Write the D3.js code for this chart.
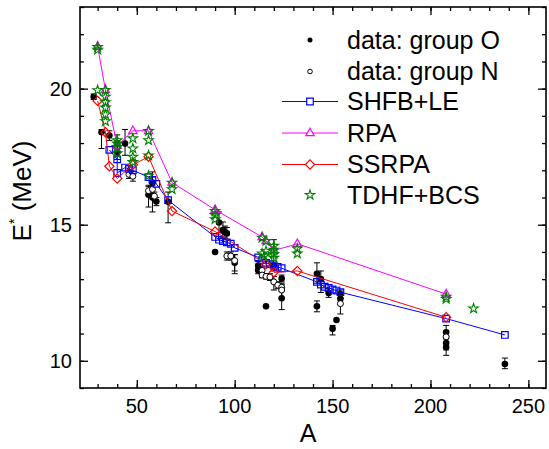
<!DOCTYPE html>
<html>
<head>
<meta charset="utf-8">
<script src="https://cdn.jsdelivr.net/npm/d3@7"></script>
<style>
  body { margin: 0; background: #fff; }
  text { font-family: "Liberation Sans", Arial, sans-serif; fill: #000; }
</style>
</head>
<body>
<script>
// ---- data ----
// experimental points: [A, E*, errLow, errHigh] (null = no bar)
const groupO = [
  [28, 19.7, 19.6, 19.8], [32, 18.4, 17.8, 18.5], [36, 18.28, 18.1, 18.45],
  [40, 17.65, 17.4, 17.95], [40, 18.0, 17.8, 18.3], [44, 17.98, 17.55, 18.5],
  [56, 16.1, 15.65, 16.45], [58, 16.0, 15.47, 16.94], [60, 15.85, 15.7, 16.0],
  [58, 16.55, 16.35, 16.75], [66, 15.84, 15.07, 16.2],
  [90, 14.0, null, null], [92, 15.08, 14.7, 15.47], [94, 14.8, 14.5, 15.1],
  [95, 14.72, 14.5, 14.95], [96, 14.68, 14.45, 14.9], [100, 13.6, 13.3, 13.9],
  [112, 13.5, 13.35, 13.65], [112, 13.33, 13.2, 13.45], [116, 12.0, null, null],
  [120, 13.5, 13.3, 14.45], [124, 13.02, 12.9, 13.15], [124, 12.3, 11.88, 12.7],
  [142, 13.2, 12.85, 13.6], [144, 13.0, 12.51, 13.3], [142, 12.0, 11.8, 12.2],
  [148, 12.49, 12.33, 12.66], [154, 12.45, 12.3, 12.6], [154, 12.28, null, null],
  [152, 11.5, null, null], [150, 11.18, 10.95, 11.3],
  [208, 11.05, 10.85, 11.3], [208, 10.65, 10.4, 10.9], [208, 10.5, 10.2, 10.8],
  [238, 9.88, 9.71, 10.1]
];
const groupN = [
  [46, 16.85, 16.7, 17.0], [48, 16.78, 16.6, 16.95], [56, 16.25, 16.1, 16.4],
  [58, 16.3, 16.15, 16.45], [59, 16.05, 15.9, 16.2],
  [96, 13.85, 13.7, 14.0], [98, 13.85, 13.7, 14.0], [100, 13.68, 13.2, 13.9],
  [114, 13.32, 13.2, 13.45], [114, 13.15, 13.05, 13.25], [116, 13.1, 13.0, 13.2],
  [118, 13.08, 12.95, 13.2], [120, 12.9, 12.6, 13.1], [122, 12.78, 12.65, 12.9],
  [124, 12.7, 12.55, 12.85], [124, 12.6, 12.3, 12.8], [154, 12.1, 11.72, 12.3],
  [208, 10.88, 10.7, 11.1]
];
// model curves: [A, E*]
const shfb = [
  [36, 17.75], [40, 17.4], [40, 16.9], [44, 17.1], [46, 17.05], [48, 17.0],
  [56, 16.75], [58, 16.65], [60, 16.5], [66, 15.9], [90, 14.55], [92, 14.45],
  [94, 14.4], [96, 14.35], [98, 14.3], [100, 14.15], [112, 13.8], [114, 13.7],
  [116, 13.6], [118, 13.55], [120, 13.5], [122, 13.45], [124, 13.4],
  [142, 12.9], [144, 12.8], [146, 12.72], [148, 12.68], [150, 12.62],
  [152, 12.58], [154, 12.52], [208, 11.55], [238, 10.95]
];
const rpa = [
  [30, 21.55], [34, 19.95], [40, 17.9], [48, 18.45], [56, 18.45], [68, 16.55],
  [90, 15.55], [114, 14.55], [116, 14.4], [120, 14.05], [132, 14.3], [208, 12.45]
];
const ssrpa = [
  [30, 19.55], [34, 18.4], [36, 17.15], [40, 16.7], [48, 17.2], [56, 17.5],
  [68, 15.5], [90, 14.75], [116, 13.55], [120, 13.25], [132, 13.3], [208, 11.6]
];
const tdhf = [
  [30, 21.53], [30, 21.43], [30, 19.94],
  [34, 19.95], [34, 19.7], [34, 19.5], [34, 19.3], [34, 19.05], [34, 18.8],
  [40, 18.1], [40, 17.98], [40, 17.85], [40, 17.62],
  [48, 18.17], [48, 17.8], [48, 17.49], [48, 17.3],
  [56, 18.44], [56, 18.1], [56, 17.54], [56, 16.8],
  [68, 16.54], [68, 16.3],
  [90, 15.5], [90, 15.35], [90, 15.2],
  [114, 14.52], [116, 14.4], [114, 13.94], [116, 14.03], [115, 13.84],
  [120, 14.22], [120, 14.08], [120, 13.92], [120, 13.78],
  [132, 14.12], [132, 13.94],
  [208, 12.35], [208, 12.27], [222, 11.92]
];
const legendLabels = ["data: group O", "data: group N", "SHFB+LE", "RPA", "SSRPA", "TDHF+BCS"];
const xMajor = [50, 100, 150, 200, 250];
const yMajor = [10, 15, 20];

// ---- layout ----
const W = 549, H = 449;
const mLeft = 80, mRight = 546, mTop = 7, mBottom = 388;

const svg = d3.select("body").append("svg")
  .attr("width", W).attr("height", H);

const x = d3.scaleLinear().domain([21, 259]).range([mLeft, mRight]);
const y = d3.scaleLinear().domain([9, 23]).range([mBottom, mTop]);

const xMinor = d3.range(30, 259, 10);
const yMinor = d3.range(9, 23.01, 1);

// inward ticks on all four sides
function ticks(axisFn, scale, vals, size, tr) {
  svg.append("g")
    .attr("transform", tr)
    .call(axisFn(scale).tickValues(vals).tickSizeInner(size).tickSizeOuter(0).tickFormat(""))
    .call(g => g.select(".domain").remove())
    .call(g => g.selectAll("line").attr("stroke", "#000").attr("stroke-width", 1.3));
}
ticks(d3.axisBottom, x, xMinor, -4, `translate(0,${mBottom})`);
ticks(d3.axisBottom, x, xMajor, -8, `translate(0,${mBottom})`);
ticks(d3.axisTop, x, xMinor, -4, `translate(0,${mTop})`);
ticks(d3.axisTop, x, xMajor, -8, `translate(0,${mTop})`);
ticks(d3.axisLeft, y, yMinor, -4, `translate(${mLeft},0)`);
ticks(d3.axisLeft, y, yMajor, -8, `translate(${mLeft},0)`);
ticks(d3.axisRight, y, yMinor, -4, `translate(${mRight},0)`);
ticks(d3.axisRight, y, yMajor, -8, `translate(${mRight},0)`);

svg.selectAll(".xlab").data(xMajor).enter().append("text")
  .attr("x", d => x(d)).attr("y", 413)
  .attr("text-anchor", "middle").attr("font-size", 20)
  .text(d => d);

svg.selectAll(".ylab").data(yMajor).enter().append("text")
  .attr("x", 72).attr("y", d => y(d) + 7)
  .attr("text-anchor", "end").attr("font-size", 20)
  .text(d => d);

svg.append("text").attr("x", 308).attr("y", 442)
  .attr("text-anchor", "middle").attr("font-size", 25).text("A");

const yt = svg.append("text")
  .attr("transform", "translate(31,191) rotate(-90)")
  .attr("text-anchor", "middle").attr("font-size", 26);
yt.append("tspan").text("E");
yt.append("tspan").attr("font-size", 14).attr("dy", -12).text("*");
yt.append("tspan").attr("dy", 12).text(" (MeV)");

// ---- marks ----
const plot = svg.append("g");

function errBars(data) {
  const withBar = data.filter(d => d[2] != null);
  plot.selectAll(null).data(withBar).enter().append("path")
    .attr("d", d => {
      const cx = x(d[0]), y0 = y(d[2]), y1 = y(d[3]);
      return `M${cx},${y0}V${y1}M${cx - 3},${y0}H${cx + 3}M${cx - 3},${y1}H${cx + 3}`;
    })
    .attr("stroke", "#000").attr("stroke-width", 1).attr("fill", "none");
}
errBars(groupO);
errBars(groupN);

plot.selectAll(null).data(groupO).enter().append("circle")
  .attr("cx", d => x(d[0])).attr("cy", d => y(d[1])).attr("r", 3.3)
  .attr("fill", "#000");
plot.selectAll(null).data(groupN).enter().append("circle")
  .attr("cx", d => x(d[0])).attr("cy", d => y(d[1])).attr("r", 3)
  .attr("fill", "#fff").attr("stroke", "#000").attr("stroke-width", 1);

const line = d3.line().x(d => x(d[0])).y(d => y(d[1]));

const sq = "M-3.3,-3.3H3.3V3.3H-3.3Z";
const tri = "M0,-4.8L4.2,2.7H-4.2Z";
const dia = "M0,-4.6L4.6,0L0,4.6L-4.6,0Z";
const star = d3.symbol(d3.symbolStar, 28)();

function curve(data, color, shape) {
  plot.append("path").datum(data).attr("d", line)
    .attr("fill", "none").attr("stroke", color).attr("stroke-width", 1);
  plot.selectAll(null).data(data).enter().append("path")
    .attr("d", shape)
    .attr("transform", d => `translate(${x(d[0])},${y(d[1])})`)
    .attr("fill", "none").attr("stroke", color).attr("stroke-width", 1.2);
}
curve(shfb, "#0000ff", sq);
curve(rpa, "#ff00ff", tri);
curve(ssrpa, "#ff0000", dia);

plot.selectAll(null).data(tdhf).enter().append("path")
  .attr("d", star)
  .attr("transform", d => `translate(${x(d[0])},${y(d[1])})`)
  .attr("fill", "none").attr("stroke", "#008000").attr("stroke-width", 1.1);

// frame
svg.append("rect").attr("x", mLeft).attr("y", mTop)
  .attr("width", mRight - mLeft).attr("height", mBottom - mTop)
  .attr("fill", "none").attr("stroke", "#000").attr("stroke-width", 1.6);

// ---- legend ----
const legY = [40, 71.5, 101.5, 133, 164.5, 195];
const leg = svg.append("g");
leg.selectAll(null).data(legendLabels).enter().append("text")
  .attr("x", 347).attr("y", (d, i) => legY[i] + 8.5)
  .attr("font-size", 25).text(d => d);
leg.append("circle").attr("cx", 310).attr("cy", legY[0]).attr("r", 2.5).attr("fill", "#000");
leg.append("circle").attr("cx", 310).attr("cy", legY[1]).attr("r", 2.3)
  .attr("fill", "#fff").attr("stroke", "#000");
[["#0000ff", sq, 2], ["#ff00ff", tri, 3], ["#ff0000", dia, 4]].forEach(([c, s, i]) => {
  leg.append("line").attr("x1", 282).attr("x2", 338)
    .attr("y1", legY[i]).attr("y2", legY[i]).attr("stroke", c).attr("stroke-width", 1);
  leg.append("path").attr("d", s).attr("transform", `translate(310,${legY[i]})`)
    .attr("fill", "#fff").attr("stroke", c).attr("stroke-width", 1.2);
});
leg.append("path").attr("d", star).attr("transform", `translate(310,${legY[5]})`)
  .attr("fill", "none").attr("stroke", "#008000").attr("stroke-width", 1.1);
</script>
</body>
</html>
